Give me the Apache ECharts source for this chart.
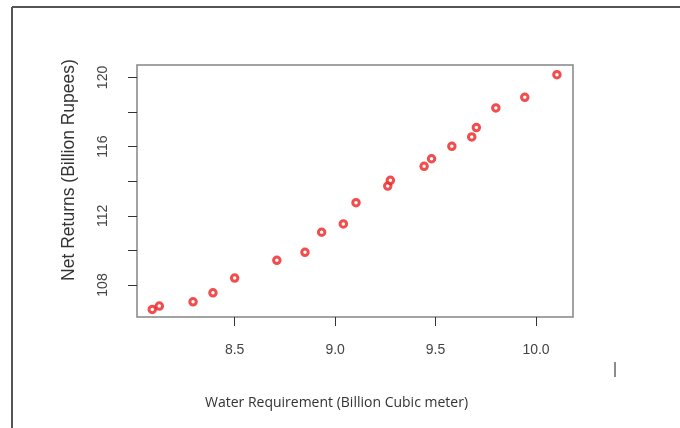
<!DOCTYPE html>
<html>
<head>
<meta charset="utf-8">
<script src="https://cdn.jsdelivr.net/npm/echarts@6/dist/echarts.min.js"></script>
<style>
  html, body { margin: 0; padding: 0; background: #fff; }
  #main { width: 680px; height: 428px; }
</style>
</head>
<body>
<div id="main"></div>
<script>
// water requirement (billion m3) vs net returns (billion rupees)
const water = [8.09, 8.125, 8.293, 8.392, 8.50, 8.71, 8.85, 8.933, 9.041, 9.104,
  9.262, 9.275, 9.443, 9.48, 9.581, 9.68, 9.703, 9.80, 9.944, 10.104];
const returns = [106.59, 106.78, 107.03, 107.55, 108.40, 109.43, 109.89, 111.05, 111.53, 112.76,
  113.72, 114.05, 114.86, 115.30, 116.02, 116.56, 117.10, 118.24, 118.85, 120.16];
const xTicks = [8.5, 9.0, 9.5, 10.0];
const yTicks = [108, 110, 112, 114, 116, 118, 120];
const yLabels = [108, 112, 116, 120];

var chart = echarts.init(document.getElementById('main'));

let points = water.map((w, i) => [w, returns[i]]);

chart.setOption({
  animation: false,
  grid: {
    left: 137, top: 65, width: 436, height: 252,
    show: true, borderColor: '#858585', borderWidth: 1.5, backgroundColor: 'transparent'
  },
  xAxis: {
    type: 'value',
    min: 8.014, max: 10.184,
    splitLine: { show: false },
    axisLine: { show: false },
    axisTick: { show: true, length: 9, lineStyle: { color: '#333', width: 1 }, customValues: xTicks },
    axisLabel: {
      customValues: xTicks, margin: 26,
      fontFamily: 'Liberation Sans', fontSize: 14, color: '#444',
      formatter: v => v.toFixed(1)
    },
    name: 'Water Requirement (Billion Cubic meter)',
    nameLocation: 'middle', nameGap: 79,
    nameTextStyle: { fontFamily: 'Open Sans', fontSize: 14, color: '#333', padding: [0, 37, 0, 0] }
  },
  yAxis: {
    type: 'value',
    min: 106.15, max: 120.72,
    splitLine: { show: false },
    axisLine: { show: false },
    axisTick: { show: true, length: 9, lineStyle: { color: '#333', width: 1 }, customValues: yTicks },
    axisLabel: {
      customValues: yLabels, rotate: 90, margin: 27,
      fontFamily: 'Liberation Sans', fontSize: 14, color: '#444'
    },
    name: 'Net Returns (Billion Rupees)',
    nameLocation: 'middle', nameGap: 59, nameRotate: 90,
    nameTextStyle: { fontFamily: 'Liberation Sans', fontSize: 17.5, color: '#333', padding: [0, 0, 0, 42] }
  },
  graphic: [
    { type: 'line', shape: { x1: 12, y1: 7, x2: 680, y2: 7 }, style: { stroke: '#555', lineWidth: 2 } },
    { type: 'line', shape: { x1: 12, y1: 7, x2: 12, y2: 428 }, style: { stroke: '#555', lineWidth: 2 } },
    { type: 'line', shape: { x1: 615, y1: 362, x2: 615, y2: 377 }, style: { stroke: '#666', lineWidth: 1.5 } }
  ],
  series: [{
    type: 'scatter',
    data: points,
    symbol: 'circle',
    symbolSize: 6.5,
    itemStyle: { color: '#fff', borderColor: '#ee2020', borderWidth: 3 }
  }]
});
</script>
</body>
</html>
